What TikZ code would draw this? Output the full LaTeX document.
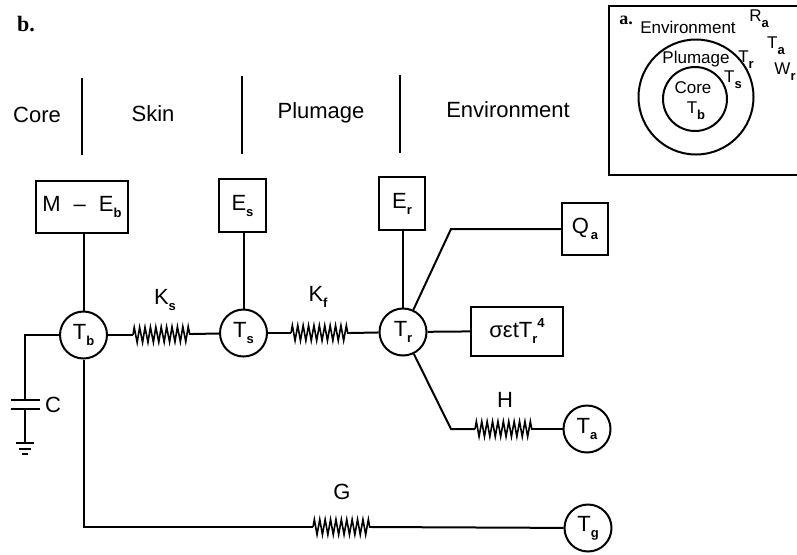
\documentclass[tikz,border=0pt]{standalone}
\usepackage{fontspec}
\setmainfont{Liberation Sans}
\newfontfamily\serifbold[Scale=1]{Liberation Serif}
\usetikzlibrary{decorations.pathmorphing}
% tiefgestellter Index wie im Original
\newcommand{\idx}[1]{\raisebox{-3pt}{\fontsize{6.5}{7}\selectfont\bfseries #1}}
\tikzset{
  lbl/.style={inner sep=0pt,font=\fontsize{11}{13}\selectfont},
  small/.style={inner sep=0pt,font=\fontsize{8.5}{10}\selectfont},
  temp/.style={draw,circle,minimum size=23.5pt,inner sep=0pt,line width=1pt,font=\fontsize{11}{13}\selectfont},
  term/.style={draw,rectangle,inner sep=0pt,line width=1pt,font=\fontsize{11}{13}\selectfont},
  wire/.style={line width=1pt},
  resistor/.style={line width=0.8pt,decorate,decoration={zigzag,segment length=2.7pt,amplitude=3.8pt}}
}
\begin{document}
\begin{tikzpicture}[x=0.5pt,y=-0.5pt]
        \useasboundingbox (0,0) rectangle (797,554);

        % Beschriftung oben
        \node[inner sep=0pt,font=\serifbold\bfseries\fontsize{11}{13}\selectfont] (bmark) at (26,24) {b.};
        \node[lbl] (core) at (37,115) {Core};
        \node[lbl] (skin) at (153,114) {Skin};
        \node[lbl] (plumage) at (321,113) {Plumage};
        \node[lbl] (envir) at (508,110) {Environment};

        % Trennlinien
        \draw[wire] (81.5,78) -- (81.5,155);
        \draw[wire] (241.5,76) -- (241.5,154);
        \draw[wire] (400,75) -- (400,153);

        % Knoten
        \node[temp] (tb) at (83.5,335) {T\idx{b}};
        \node[temp] (ts) at (243.5,333) {T\idx{s}};
        \node[temp] (tr) at (403,332) {T\idx{r}};
        \node[temp] (ta) at (587,429) {T\idx{a}};
        \node[temp] (tg) at (588,528) {T\idx{g}};

        % Kaesten
        \node[term,minimum width=46pt,minimum height=26pt] (meb) at (82,207) {M\hspace{6.5pt}--\hspace{6.5pt}E\idx{b}};
        \node[term,minimum width=23.5pt,minimum height=26.5pt] (es) at (242.5,205.5) {E\idx{s}};
        \node[term,minimum width=23pt,minimum height=26.5pt] (er) at (402,203.5) {E\idx{r}};
        \node[term,minimum width=23pt,minimum height=26pt] (qa) at (585,229) {Q\hspace{1pt}\idx{a}};
        \node[term,minimum width=46pt,minimum height=24.5pt] (rad) at (517,331) {σεtT\idx{r}\raisebox{5pt}{\fontsize{6.5}{7}\selectfont\bfseries 4}};

        % Hilfspunkte
        \coordinate (ksa) at (133,335);
        \coordinate (ksb) at (192,334);
        \coordinate (kfa) at (291,333);
        \coordinate (kfb) at (350,333);
        \coordinate (ha) at (475,429);
        \coordinate (hb) at (533,429);
        \coordinate (ga) at (313,527);
        \coordinate (gb) at (372,527);
        \coordinate (qbend) at (451,229);
        \coordinate (hbend) at (451,429);
        \coordinate (gbend) at (83.5,527);
        \coordinate (capa) at (25,400);
        \coordinate (capb) at (25,409);
        \coordinate (gnd) at (25,443);

        % Verbindungen
        \draw[wire] (tb) -- (tb|-meb.south);
        \draw[wire] (ts) -- (ts|-es.south);
        \draw[wire] (tr) -- (tr|-er.south);
        \draw[wire] (tb) -- (ksa);
        \draw[resistor] (ksa) -- (ksb);
        \draw[wire] (ksb) -- (ts);
        \draw[wire] (ts) -- (kfa);
        \draw[resistor] (kfa) -- (kfb);
        \draw[wire] (kfb) -- (tr);
        \draw[wire] (tr) -- (rad);
        \draw[wire] (tr) -- (qbend) -- (qa);
        \draw[wire] (tr) -- (hbend) -- (ha);
        \draw[resistor] (ha) -- (hb);
        \draw[wire] (hb) -- (ta);
        \draw[wire] (tb) -- (gbend) -- (ga);
        \draw[resistor] (ga) -- (gb);
        \draw[wire] (gb) -- (tg);

        % Kondensator und Erde
        \draw[wire] (tb.west) -| (capa);
        \draw[wire] (capb) -- (gnd);
        \draw[wire] ([xshift=-7.25pt]capa) -- ([xshift=7.25pt]capa);
        \draw[wire] ([xshift=-7.25pt]capb) -- ([xshift=7.25pt]capb);
        \draw[wire] ([xshift=-4.5pt]gnd) -- ([xshift=4.5pt]gnd);
        \draw[wire] (19,449) -- (31,449);
        \draw[wire] (22,454) -- (28,454);

        % Beschriftung der Widerstaende
        \node[lbl] (ks) at (165,300) {K\idx{s}};
        \node[lbl] (kf) at (318,297) {K\idx{f}};
        \node[lbl] (h) at (505,400) {H};
        \node[lbl] (g) at (342,492) {G};
        \node[lbl] (c) at (53,405) {C};

        % Einschub oben rechts
        \draw[wire] (797,6) -- (609,6) -- (609,175) -- (797,175);
        \draw[wire] (696,97) circle (57.5);
        \draw[wire] (695,99) circle (32);
        \node[inner sep=0pt,font=\serifbold\bfseries\fontsize{9}{11}\selectfont] (amark) at (626,20) {a.};
        \node[small] (ienvir) at (688,27) {Environment};
        \node[small] (iplum) at (696,59) {Plumage};
        \node[small] (icore) at (693,88) {Core};
        \node[small] (itb) at (696,111) {T\idx{b}};
        \node[small] (its) at (733,80) {T\idx{s}};
        \node[small] (itr) at (746,60) {T\idx{r}};
        \node[small] (ira) at (759,19) {R\idx{a}};
        \node[small] (ita) at (776,46) {T\idx{a}};
        \node[small] (iw) at (785,72) {W\idx{r}};
    \end{tikzpicture}
\end{document}
